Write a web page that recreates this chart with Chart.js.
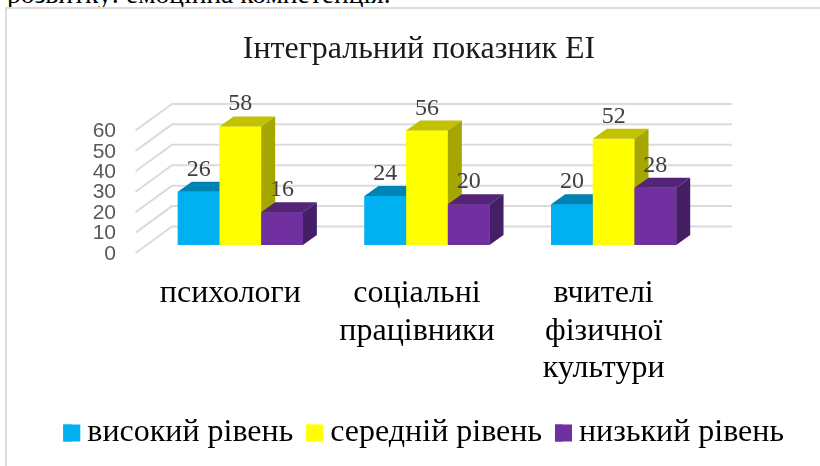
<!DOCTYPE html>
<html lang="uk">
<head>
<meta charset="utf-8">
<title>Інтегральний показник ЕІ</title>
<script src="https://cdn.jsdelivr.net/npm/chart.js@4"></script>
<style>
html,body{margin:0;padding:0;background:#fff;overflow:hidden;width:820px;height:466px}
#cut{position:absolute;left:7px;top:0;width:420px;height:7px;overflow:hidden;font:27.5px/30px "Liberation Serif",serif;color:#000;white-space:nowrap}
#cut span{position:absolute;left:0;top:-21px}
#frame{position:absolute;left:5px;top:7px;right:-3px;bottom:-3px;border:2px solid #dcdcdc}
canvas{position:absolute;left:0;top:0}
</style>
</head>
<body>
<div id="cut"><span>розвитку: емоційна компетенція.</span></div>
<div id="frame"></div>
<canvas id="c" width="820" height="466"></canvas>
<script>
const chartTitle = 'Інтегральний показник ЕІ';
const categories = ['психологи', ['соціальні', 'працівники'], ['вчителі', 'фізичної', 'культури']];
const seriesNames = ['високий рівень', 'середній рівень', 'низький рівень'];
const highLevel = [26, 24, 20];
const midLevel = [58, 56, 52];
const lowLevel = [16, 20, 28];
const frontColors = ['#00B0F0', '#FFFF00', '#7030A0'];
const topColors = ['#0082B2', '#C2C200', '#532477'];
const sideColors = ['#00709A', '#A6A600', '#451F66'];
const DEPTH_X = 14, DEPTH_Y = 10;      // bar depth
const WALL_X = 25, WALL_Y = 18.5;      // back wall offset
const FLOOR_X = 11.4, FLOOR_Y = 8;     // front edge of the walls
const LEGEND_SWATCH = 17;

const poly = (ctx, color, pts) => {
  ctx.fillStyle = color;
  ctx.beginPath();
  pts.forEach((p, i) => i ? ctx.lineTo(p[0], p[1]) : ctx.moveTo(p[0], p[1]));
  ctx.closePath();
  ctx.fill();
};

const pseudo3d = {
  id: 'pseudo3d',
  beforeDatasetsDraw(chart) {
    const {ctx, chartArea, scales: {y}} = chart;
    ctx.save();
    ctx.strokeStyle = '#dbdbdb';
    ctx.lineWidth = 2;
    y.ticks.forEach(t => {
      const py = y.getPixelForValue(t.value);
      ctx.beginPath();
      ctx.moveTo(chartArea.left - FLOOR_X, py + FLOOR_Y);
      ctx.lineTo(chartArea.left + WALL_X, py - WALL_Y);
      ctx.lineTo(chartArea.right + WALL_X, py - WALL_Y);
      ctx.stroke();
    });
    ctx.restore();
  },
  afterDatasetsDraw(chart) {
    const {ctx} = chart;
    ctx.save();
    chart.data.datasets.forEach((ds, i) => {
      chart.getDatasetMeta(i).data.forEach(bar => {
        const p = bar.getProps(['x', 'y', 'base', 'width']);
        const l = p.x - p.width / 2, r = p.x + p.width / 2;
        bar.draw(ctx);
        poly(ctx, topColors[i], [[l, p.y], [r, p.y], [r + DEPTH_X, p.y - DEPTH_Y], [l + DEPTH_X, p.y - DEPTH_Y]]);
        poly(ctx, sideColors[i], [[r, p.y], [r + DEPTH_X, p.y - DEPTH_Y], [r + DEPTH_X, p.base - DEPTH_Y], [r, p.base]]);
      });
    });
    ctx.fillStyle = '#404040';
    ctx.font = '24px "Liberation Serif", serif';
    ctx.textAlign = 'center';
    ctx.textBaseline = 'alphabetic';
    chart.data.datasets.forEach((ds, i) => {
      chart.getDatasetMeta(i).data.forEach((bar, j) => {
        const p = bar.getProps(['x', 'y']);
        ctx.fillText(String(ds.data[j]), p.x, p.y - 16);
      });
    });
    ctx.restore();
  },
  afterDraw(chart) {
    const {ctx, legend} = chart;
    ctx.save();
    legend.legendHitBoxes.forEach((b, i) => {
      ctx.fillStyle = frontColors[i];
      ctx.fillRect(b.left, b.top + (b.height - LEGEND_SWATCH) / 2, LEGEND_SWATCH, LEGEND_SWATCH);
    });
    ctx.restore();
  }
};

new Chart(document.getElementById('c'), {
  type: 'bar',
  data: {
    labels: categories,
    datasets: [highLevel, midLevel, lowLevel].map((d, i) => ({
      label: seriesNames[i], data: d, backgroundColor: frontColors[i], borderWidth: 0,
      barPercentage: 1, categoryPercentage: 0.67
    }))
  },
  options: {
    responsive: false,
    animation: false,
    layout: {padding: {left: 41, right: 23, top: 0, bottom: 7}},
    scales: {
      x: {
        grid: {display: false, drawTicks: false},
        border: {display: false},
        ticks: {
          color: '#000', maxRotation: 0, autoSkip: false, padding: 30, labelOffset: -10,
          font: {family: '"Liberation Serif", serif', size: 32, lineHeight: 1.17}
        },
        afterFit(s) { s.height = 159; }
      },
      y: {
        min: 0, max: 60,
        grid: {display: false, drawTicks: false},
        border: {display: false},
        ticks: {
          stepSize: 10, autoSkip: false, color: '#595959', padding: 31, labelOffset: 9,
          font: {family: '"Liberation Sans", sans-serif', size: 21}
        },
        afterFit(s) { s.width = 106; }
      },
      spacer: {
        position: 'right', display: true, min: 0, max: 1,
        grid: {display: false, drawTicks: false},
        border: {display: false},
        ticks: {display: false},
        afterFit(s) { s.width = 90; }
      }
    },
    plugins: {
      tooltip: {enabled: false},
      title: {
        display: true, text: chartTitle, color: '#1a1a1a',
        font: {family: '"Liberation Serif", serif', size: 32, weight: 'normal', lineHeight: 1.2},
        padding: {top: 30, bottom: 54}
      },
      legend: {
        position: 'bottom', align: 'end',
        labels: {
          boxWidth: 8, boxHeight: 17, padding: 13, color: '#000',
          font: {family: '"Liberation Serif", serif', size: 32}
        }
      }
    }
  },
  plugins: [pseudo3d]
});
</script>
</body>
</html>
